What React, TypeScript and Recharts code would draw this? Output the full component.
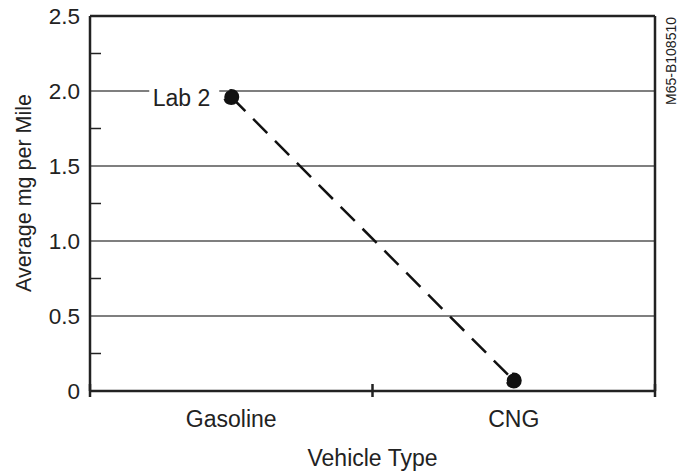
import React from "react";
import {
  LineChart,
  Line,
  XAxis,
  YAxis,
  CartesianGrid,
  ReferenceLine,
  LabelList,
} from "recharts";

const categories = ["Gasoline", "CNG"];
const lab2Values = [1.96, 0.07];
const seriesName = "Lab 2";
const yTicks = [0, 0.25, 0.5, 0.75, 1, 1.25, 1.5, 1.75, 2, 2.25, 2.5];
const gridValues = [0.5, 1, 1.5, 2];
const xTicks = [0, 0.5, 1, 1.5, 2];
const yAxisTitle = "Average mg per Mile";
const xAxisTitle = "Vehicle Type";
const figureId = "M65-B108510";

const data = categories.map((c, i) => ({ x: i + 0.5, name: c, value: lab2Values[i] }));

const FONT = "'Liberation Sans', Arial, sans-serif";
const INK = "#222";

const YTick = (props: any) => {
  const { x, y, payload } = props;
  const v = payload.value as number;
  const major = Math.abs(v * 2 - Math.round(v * 2)) < 1e-6;
  if (major) {
    return (
      <text x={x} y={y + 8} textAnchor="end" fontFamily={FONT} fontSize={22.5} fill={INK}>
        {v === 0 ? "0" : v.toFixed(1)}
      </text>
    );
  }
  return <line x1={x + 10} x2={x + 21} y1={y} y2={y} stroke={INK} strokeWidth={1.5} />;
};

const XTick = (props: any) => {
  const { x, y, payload } = props;
  const v = payload.value as number;
  if (Number.isInteger(v)) {
    return <line x1={x} x2={x} y1={y - 7} y2={y + 6} stroke={INK} strokeWidth={2.5} />;
  }
  const idx = Math.floor(v);
  return (
    <text x={x} y={y + 36} textAnchor="middle" fontFamily={FONT} fontSize={23} fill={INK}>
      {categories[idx]}
    </text>
  );
};

const PointLabel = (props: any) => {
  const { x, y, index } = props;
  if (index !== 0) return null;
  return (
    <g>
      <rect x={x - 82} y={y - 12} width={70} height={24} fill="#fff" />
      <text x={x - 21} y={y + 9} textAnchor="end" fontFamily={FONT} fontSize={23} fill={INK}>
        {seriesName}
      </text>
    </g>
  );
};

const YTitle = () => (
  <text
    x={31}
    y={193}
    transform="rotate(-90, 31, 193)"
    textAnchor="middle"
    fontFamily={FONT}
    fontSize={21.5}
    fill={INK}
  >
    {yAxisTitle}
  </text>
);

export default function App() {
  return (
    <div style={{ position: "absolute", left: 0, top: 0, width: 685, height: 474, background: "#fff" }}>
      <LineChart
        width={685}
        height={474}
        data={data}
        margin={{ top: 16, right: 30, left: 0, bottom: 0 }}
      >
        <CartesianGrid
          horizontal
          vertical={false}
          horizontalValues={gridValues}
          stroke="#000"
          strokeWidth={1.2}
        />
        <XAxis
          dataKey="x"
          type="number"
          domain={[0, categories.length]}
          ticks={xTicks}
          interval={0}
          height={83}
          tickSize={0}
          tickMargin={0}
          tickLine={false}
          axisLine={{ stroke: INK, strokeWidth: 2.5 }}
          tick={<XTick />}
          label={{
            value: xAxisTitle,
            position: "insideBottom",
            offset: 8,
            style: { fontFamily: FONT, fontSize: 23, fill: INK },
          }}
        />
        <YAxis
          type="number"
          domain={[0, 2.5]}
          ticks={yTicks}
          interval={0}
          width={90}
          tickSize={0}
          tickMargin={10}
          tickLine={false}
          axisLine={{ stroke: INK, strokeWidth: 2.5 }}
          tick={<YTick />}
          label={{ content: <YTitle /> } as any}
        />
        <ReferenceLine y={2.5} stroke={INK} strokeWidth={2.5} />
        <ReferenceLine x={categories.length} stroke={INK} strokeWidth={2.5} />
        <Line
          dataKey="value"
          name={seriesName}
          stroke="#111"
          strokeWidth={2.5}
          strokeDasharray="20 11"
          dot={{ r: 7, fill: "#111", stroke: "#111", strokeWidth: 2 }}
          isAnimationActive={false}
        >
          <LabelList dataKey="value" content={<PointLabel />} />
        </Line>
      </LineChart>
      <svg
        width={685}
        height={474}
        style={{ position: "absolute", left: 0, top: 0, pointerEvents: "none" }}
      >
        <text
          x={676}
          y={17}
          transform="rotate(-90, 676, 17)"
          textAnchor="end"
          fontFamily={FONT}
          fontSize={14}
          fill={INK}
        >
          {figureId}
        </text>
      </svg>
    </div>
  );
}
